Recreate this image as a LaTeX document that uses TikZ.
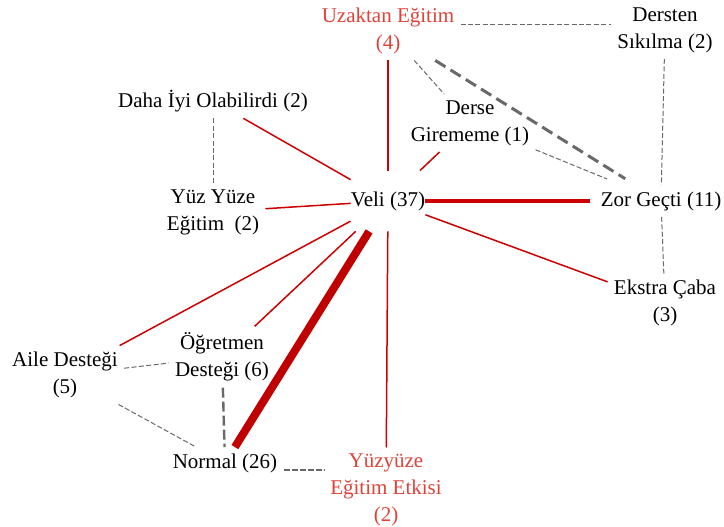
\documentclass[tikz,border=0pt]{standalone}
\usepackage{fontspec}
\setmainfont{Liberation Serif}
\definecolor{linered}{RGB}{204,0,0}
\definecolor{darkred}{RGB}{192,0,0}
\definecolor{txtred}{RGB}{224,66,56}
\definecolor{dashgray}{RGB}{105,105,105}
\tikzset{
  lbl/.style={align=center, inner sep=3pt, font=\fontsize{10.5}{13.5}\selectfont},
  redlbl/.style={lbl, text=txtred},
  redline/.style={draw=linered, line width=0.75pt},
  graydash/.style={draw=dashgray, line width=0.5pt, dash pattern=on 2.5pt off 1.2pt},
  middash/.style={draw=dashgray, line width=1.2pt, dash pattern=on 5pt off 2pt},
  thickdash/.style={draw=dashgray, line width=1.5pt, dash pattern=on 6pt off 3pt},
}
\begin{document}
\begin{tikzpicture}[x=0.5pt,y=-0.5pt]
            	\useasboundingbox (0,0) rectangle (724,526);

                % nodes
                \node[lbl,minimum width=36pt,minimum height=30pt,inner sep=0pt] (veli) at (388,201) {Veli (37)};
                \node[redlbl] (uzak) at (388,31) {Uzaktan Eğitim\\(4)};
                \node[lbl] (dersten) at (665,30) {Dersten\\Sıkılma (2)};
                \node[lbl] (derse) at (470,123) {Derse\\Girememe (1)};
                \node[lbl] (daha) at (213,101) {Daha İyi Olabilirdi (2)};
                \node[lbl] (yuz) at (213,212) {Yüz Yüze\\Eğitim\ \ (2)};
                \node[lbl] (zor) at (661,201) {Zor Geçti (11)};
                \node[lbl] (ekstra) at (665,303) {Ekstra Çaba\\(3)};
                \node[lbl] (aile) at (65,375) {Aile Desteği\\(5)};
                \node[lbl] (ogr) at (222,357) {Öğretmen\\Desteği (6)};
                \node[lbl] (normal) at (225,463) {Normal (26)};
                \node[redlbl] (yyetki) at (386,490) {Yüzyüze\\Eğitim Etkisi\\(2)};

                % red links from Veli
                \draw[redline] (veli) -- (uzak);
                \draw[redline] (veli) -- (derse);
                \draw[redline] (veli) -- (daha);
                \draw[redline] (veli) -- (yuz);
                \draw[redline] (veli) -- (ekstra);
                \draw[redline] (veli) -- (aile);
                \draw[redline] (veli) -- (ogr);
                \draw[redline] (veli) -- (yyetki);
                \draw[redline,line width=1.6pt,shorten >=2pt] (veli) -- (zor);
                \draw[draw=darkred,line width=4pt] (veli) -- (normal);

                % gray dashed links
                \draw[graydash] ([yshift=3.5pt]uzak.east) -- ([yshift=3.5pt]uzak.east -| dersten.west);
                \draw[graydash] (uzak) -- (derse);
                \draw[thickdash,shorten >=6pt] (uzak) -- (zor);
                \draw[graydash,shorten >=8pt] (derse) -- (zor);
                \draw[graydash] (dersten) -- (zor);
                \draw[graydash] (zor) -- (ekstra);
                \draw[graydash] (daha) -- (yuz);
                \draw[graydash] (aile) -- (ogr);
                \draw[graydash] (aile) -- (normal);
                \draw[middash] (ogr) -- (normal);
                \draw[draw=dashgray,line width=0.7pt,dash pattern=on 3pt off 1pt] ([yshift=-3.5pt]normal.east) -- ([yshift=-3.5pt]normal.east -| yyetki.west);
            \end{tikzpicture}
\end{document}
